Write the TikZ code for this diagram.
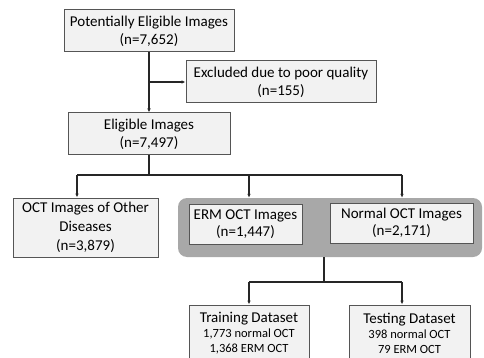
\documentclass[tikz,border=0pt]{standalone}
\usepackage{fontspec}
\setmainfont{Carlito}
\usetikzlibrary{arrows.meta}
\definecolor{boxfill}{HTML}{F2F2F2}
\definecolor{boxline}{HTML}{555555}
\definecolor{grouping}{HTML}{A8A8A8}
\begin{document}
\begin{tikzpicture}[x=1pt,y=-1pt,
  box/.style={draw=boxline, fill=boxfill, line width=1pt, inner sep=0pt, align=center,
    font=\fontsize{15}{18}\selectfont},
  conn/.style={draw=black!85, line width=1.1pt},
  arr/.style={conn, -{Latex[length=4pt,width=3.5pt]}}]
\useasboundingbox (0,0) rectangle (484,358);
\clip (0,0) rectangle (484,358);
\fill[white] (0,0) rectangle (484,358);
% grouping background
\node[fill=grouping, rounded corners=9pt, minimum width=304pt, minimum height=59pt, inner sep=0pt] (grp) at (330,227.5) {};
% boxes
\node[box, minimum width=170pt, minimum height=42pt] (b1) at (149,31) {Potentially Eligible Images\\(n=7,652)};
\node[box, minimum width=190pt, minimum height=42pt] (excl) at (281,82) {Excluded due to poor quality\\(n=155)};
\node[box, minimum width=162pt, minimum height=42pt] (elig) at (149,134) {Eligible Images\\(n=7,497)};
\node[box, minimum width=145pt, minimum height=59pt, font=\fontsize{15}{19}\selectfont] (other) at (85.5,227.5) {OCT Images of Other\\Diseases\\(n=3,879)};
\node[box, minimum width=113pt, minimum height=40pt, font=\fontsize{15}{17}\selectfont] (erm) at (245.5,224) {ERM OCT Images\\(n=1,447)};
\node[box, minimum width=143pt, minimum height=40pt, font=\fontsize{15}{17}\selectfont] (normal) at (401.5,223) {Normal OCT Images\\(n=2,171)};
\node[box, minimum width=120pt, minimum height=56pt, font=\fontsize{12.5}{15}\selectfont] (train) at (249,333)
  {\fontsize{15}{15}\selectfont Training Dataset\\\fontsize{12.5}{15}\selectfont 1,773 normal OCT\\1,368 ERM OCT};
\node[box, minimum width=121pt, minimum height=56pt, font=\fontsize{12.5}{15}\selectfont] (test) at (409.5,333)
  {\fontsize{15}{15}\selectfont Testing Dataset\\\fontsize{12.5}{15}\selectfont 398 normal OCT\\79 ERM OCT};
% connectors
\draw[arr] (b1.south) -- (elig.north);
\draw[arr] (b1.south |- excl.west) -- (excl.west);
\coordinate (j1) at (149,175);
\coordinate (jl) at (77,175);
\coordinate (jm) at (249,175);
\coordinate (jr) at (402,175);
\draw[conn] (elig.south) -- (j1);
\draw[conn] (jl) -- (jr);
\draw[arr] (jl) -- (jl |- other.north);
\draw[arr] (jm) -- (jm |- grp.north);
\draw[arr] (jr) -- (jr |- grp.north);
\coordinate (g1) at (324,257);
\coordinate (j2) at (324,282);
\coordinate (kl) at (249,282);
\coordinate (kr) at (402,282);
\draw[conn] (g1) -- (j2);
\draw[conn] (kl) -- (kr);
\draw[arr] (kl) -- (kl |- train.north);
\draw[arr] (kr) -- (kr |- test.north);
\end{tikzpicture}
\end{document}
